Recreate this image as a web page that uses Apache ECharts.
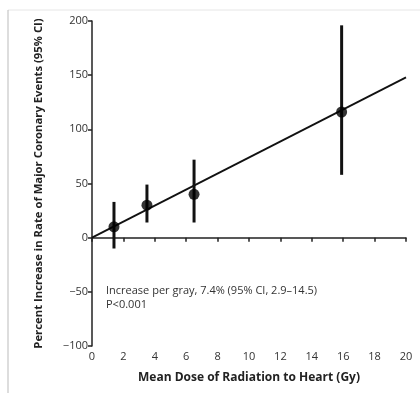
<!DOCTYPE html>
<html><head><meta charset="utf-8">
<script src="https://cdn.jsdelivr.net/npm/echarts@6/dist/echarts.min.js"></script>
<style>html,body{margin:0;padding:0;background:#fff}#c{width:420px;height:393px}</style>
</head><body><div id="c"></div>
<script>
const doseX = [1.4, 3.5, 6.5, 15.9];
const pointY = [10, 30, 40, 116];
const ciLow = [-10, 14, 14, 58];
const ciHigh = [33, 49, 72, 196];
const fitX = [0, 20];
const fitY = [0, 148];
const yTicks = [-100, -50, 0, 50, 100, 150, 200];
const xTicks = [0, 2, 4, 6, 8, 10, 12, 14, 16, 18, 20];
const annotation1 = 'Increase per gray, 7.4% (95% CI, 2.9\u201314.5)';
const annotation2 = 'P<0.001';

const font = '"Open Sans", "DejaVu Sans", sans-serif';
const chart = echarts.init(document.getElementById('c'));
chart.setOption({
  animation: false,
  grid: {left: 92, right: 14, top: 21, bottom: 47},
  graphic: [
    {type: 'line', shape: {x1: 8, y1: 10, x2: 420, y2: 10}, style: {stroke: '#e6e6e6', lineWidth: 1}},
    {type: 'line', shape: {x1: 8, y1: 10, x2: 8, y2: 393}, style: {stroke: '#bbbbbb', lineWidth: 1}},
    {type: 'text', left: 106, top: 284, style: {text: annotation1 + '\n' + annotation2, font: '11px ' + font, fill: '#333', lineHeight: 14}}
  ],
  xAxis: {
    type: 'value', min: 0, max: 20, interval: 2,
    name: 'Mean Dose of Radiation to Heart (Gy)', nameLocation: 'middle', nameGap: 26,
    nameTextStyle: {fontFamily: font, fontWeight: 'bold', fontSize: 12, color: '#222'},
    axisLine: {lineStyle: {color: '#222', width: 1.5}},
    axisTick: {show: true, length: 4, lineStyle: {color: '#222', width: 1.5}},
    axisLabel: {fontFamily: font, fontSize: 11, color: '#333', margin: 5,
      formatter: v => xTicks.includes(v) ? String(v) : ''},
    splitLine: {show: false}
  },
  yAxis: {
    type: 'value', min: -100, max: 200, interval: 50,
    name: 'Percent Increase in Rate of Major Coronary Events (95% CI)', nameLocation: 'middle', nameGap: 48,
    nameTextStyle: {fontFamily: font, fontWeight: 'bold', fontSize: 11.3, color: '#222'},
    axisLine: {lineStyle: {color: '#222', width: 1.5}},
    axisTick: {show: true, length: 4, lineStyle: {color: '#222', width: 1.5}},
    axisLabel: {fontFamily: font, fontSize: 11, color: '#333', margin: 4,
      formatter: v => yTicks.includes(v) ? String(v).replace('-', '\u2212') : ''},
    splitLine: {show: false}
  },
  series: [
    {
      type: 'line', data: fitX.map((x, i) => [x, fitY[i]]), symbol: 'none',
      lineStyle: {color: '#111', width: 1.8}, z: 2
    },
    {
      type: 'custom', z: 3,
      data: doseX.map((x, i) => [x, ciLow[i], ciHigh[i]]),
      renderItem: (params, api) => {
        const p1 = api.coord([api.value(0), api.value(1)]);
        const p2 = api.coord([api.value(0), api.value(2)]);
        return {type: 'line', shape: {x1: p1[0], y1: p1[1], x2: p2[0], y2: p2[1]},
          style: {stroke: '#111', lineWidth: 3}};
      }
    },
    {
      type: 'scatter', data: doseX.map((x, i) => [x, pointY[i]]),
      symbolSize: 11, itemStyle: {color: '#000'}, z: 4
    }
  ]
});
</script></body></html>
